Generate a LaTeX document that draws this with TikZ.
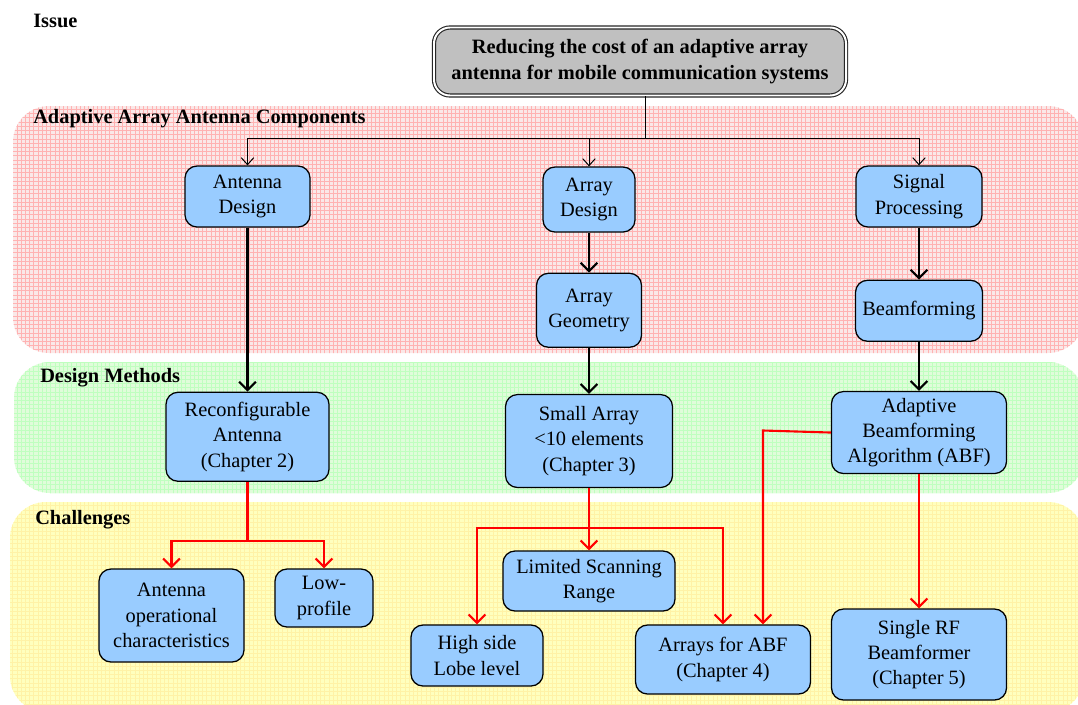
\documentclass[tikz,border=0pt]{standalone}
\usepackage{fontspec}
\setmainfont{Liberation Serif}
\usetikzlibrary{positioning,arrows.meta,patterns}
\definecolor{boxblue}{RGB}{153,204,255}
\definecolor{issuegray}{RGB}{192,192,192}
\definecolor{bandred}{RGB}{250,232,232}
\definecolor{bandgreen}{RGB}{224,252,218}
\definecolor{bandyellow}{RGB}{255,255,190}
\tikzset{
    band/.style = {
        rounded corners=9mm,
        },
    heading/.style = {
        anchor=west,
        inner sep=0pt,
        font=\bfseries\fontsize{14.5}{17}\selectfont,
        },
    blk/.style = {
        draw,
        fill = boxblue,
        rounded corners=3mm,
        line width=0.9pt,
        align=center,
        inner sep=0pt,
        font=\fontsize{14.5}{18}\selectfont,
        },
    boxsize/.style 2 args = {
        minimum width=#1mm,
        minimum height=#2mm,
        },
    issue/.style = {
        draw = black!85,
        fill = issuegray,
        double = white,
        double distance=1.4pt,
        line width=0.8pt,
        rounded corners=4mm,
        align=center,
        inner sep=0pt,
        font=\bfseries\fontsize{14.5}{18}\selectfont,
        },
    feed/.style = {
        -{Straight Barb[length=5pt,width=9pt]},
        line width=0.7pt,
        },
    flow/.style = {
        -{Straight Barb[length=6pt,width=12pt]},
        line width=1.5pt,
        },
    challenge/.style = {
        flow,
        red,
        },
}
\begin{document}
\begin{tikzpicture}[x=0.25mm, y=-0.25mm]
    \useasboundingbox (0,0) rectangle (1078,704);

    % bands
    \fill[bandred, band] (13,106) rectangle (1084,353);
    \fill[pattern=grid, pattern color=red!30, band] (13,106) rectangle (1084,353);
    \fill[bandgreen, band] (14,362) rectangle (1084,493);
    \fill[pattern=grid, pattern color=green!25, band] (14,362) rectangle (1084,493);
    \fill[bandyellow, band] (10,502) rectangle (1084,712);
    \fill[pattern=grid, pattern color=yellow!70!orange!35, band] (10,502) rectangle (1084,712);

    \node[heading] (hissue) at (33,21) {Issue};
    \node[heading] (hcomp) at (33,119) {Adaptive Array Antenna Components};
    \node[heading] (hmeth) at (40,378) {Design Methods};
    \node[heading] (hchal) at (35,520) {Challenges};

    \node[issue, minimum width=103mm, minimum height=17mm] (issue) at (640,61.5)
        {Reducing the cost of an adaptive array\\antenna for mobile communication systems};

    \node[blk, boxsize={31.25}{15.25}] (ad) at (247.5,196.5) {Antenna\\Design};
    \node[blk, boxsize={23}{16.25}] (ard) at (589,199.5) {Array\\Design};
    \node[blk, boxsize={31.5}{15.25}] (sp) at (919,196.5) {Signal\\Processing};
    \node[blk, boxsize={26.25}{18.5}, below=10mm of ard] (ag) {Array\\Geometry};
    \node[blk, boxsize={31.75}{15.25}, below=13mm of sp] (bf) {Beamforming};
    \node[blk, boxsize={40.75}{22.25}, below=41mm of ad] (rc) {Reconfigurable\\Antenna\\(Chapter 2)};
    \node[blk, boxsize={41.75}{23.25}, below=11.5mm of ag] (sa) {Small Array\\<10 elements\\(Chapter 3)};
    \node[blk, boxsize={43.75}{20.5}, below=12.25mm of bf] (abf) {Adaptive\\Beamforming\\Algorithm (ABF)};

    \node[blk, boxsize={36.25}{23.25}] (aoc) at (171.5,615.5) {Antenna\\operational\\characteristics};
    \node[blk, boxsize={24.5}{14.5}] (lp) at (324,598) {Low-\\profile};
    \node[blk, boxsize={43}{15}] (lsr) at (589,581) {Limited Scanning\\Range};
    \node[blk, boxsize={33}{15.25}] (hsl) at (477,655.5) {High side\\Lobe level};
    \node[blk, boxsize={43.75}{17.25}] (afa) at (723,659.5) {Arrays for ABF\\(Chapter 4)};
    \node[blk, boxsize={43.75}{22.75}] (srf) at (919,654.5) {Single RF\\Beamformer\\(Chapter 5)};

    \coordinate (split) at (645,138);
    \coordinate (r1) at (247.5,541);
    \coordinate (r2) at (589,528);
    \coordinate (r3) at (763,430.5);

    \draw[line width=0.7pt] (issue.south -| split) -- (split);
    \draw[feed] (split) -| (ad);
    \draw[feed] (split) -| (ard);
    \draw[feed] (split) -| (sp);

    \draw[flow] (ad) -- (rc);
    \draw[flow] (ard) -- (ag);
    \draw[flow] (ag) -- (sa);
    \draw[flow] (sp) -- (bf);
    \draw[flow] (bf) -- (abf);

    \draw[challenge] (rc) -- (r1) -| (aoc);
    \draw[challenge] (r1) -| (lp);
    \draw[challenge] (sa) -- (lsr);
    \draw[challenge] (r2) -| (hsl);
    \draw[challenge] (r2) -| (afa);
    \draw[challenge] (abf.west) -- (r3) -- (r3 |- afa.north);
    \draw[challenge] (abf) -- (srf);
\end{tikzpicture}
\end{document}
